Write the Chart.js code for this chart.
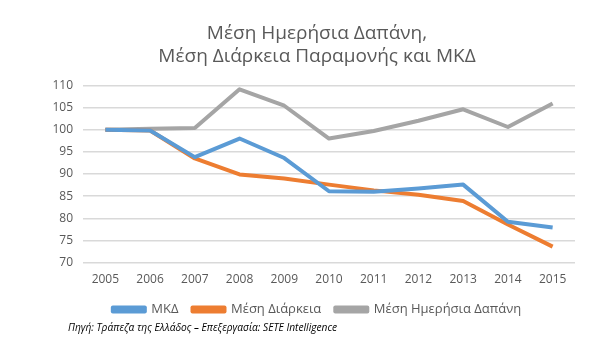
<!DOCTYPE html>
<html>
  <head>
    <title>Μέση Ημερήσια Δαπάνη</title>
    <script src="https://cdn.jsdelivr.net/npm/chart.js@4/dist/chart.umd.min.js"></script>
    <style>
      body { margin: 0; background: #fff; }
      #wrap { position: relative; width: 599px; height: 354px; }
      #source {
        position: absolute; left: 68px; top: 320px;
        font: italic 10.2px "Open Sans", sans-serif; color: #000;
      }
    </style>
  </head>
  <body>
    <div id="wrap">
      <canvas id="myChart" width="599" height="354"></canvas>
      <div id="source">Πηγή: Τράπεζα της Ελλάδος – Επεξεργασία: SETE Intelligence</div>
    </div>

    <script>
      // data
      const years = ["2005","2006","2007","2008","2009","2010","2011","2012","2013","2014","2015"]
      const mkd = [100, 99.8, 93.8, 98.0, 93.6, 86.1, 86.0, 86.7, 87.6, 79.2, 77.9]
      const diarkeia = [100, 99.8, 93.5, 89.9, 89.0, 87.6, 86.3, 85.3, 83.9, 78.6, 73.6]
      const dapani = [100, 100.2, 100.4, 109.1, 105.4, 98.0, 99.7, 102.0, 104.6, 100.6, 105.9]
      const seriesNames = ["ΜΚΔ", "Μέση Διάρκεια", "Μέση Ημερήσια Δαπάνη"]
      const yMin = 70, yMax = 110, yStep = 5

      const grey = "#595959"
      const font = "'Open Sans', sans-serif"

      function ds(label, data, color){
        return {
          label: label,
          data: data,
          borderColor: color,
          backgroundColor: color,
          borderWidth: 4,
          pointRadius: 0,
          tension: 0,
          borderJoinStyle: "round"
        }
      }

      new Chart("myChart", {
        type: "line",
        data: {
          labels: years,
          datasets: [
            ds(seriesNames[0], mkd, "#5b9bd5"),
            ds(seriesNames[1], diarkeia, "#ed7d31"),
            ds(seriesNames[2], dapani, "#a5a5a5")
          ]
        },
        options: {
          responsive: false,
          animation: false,
          layout: { padding: { left: 35, right: 0, top: 22, bottom: 28 } },
          plugins: {
            title: {
              display: true,
              text: ["Μέση Ημερήσια Δαπάνη,", "Μέση Διάρκεια Παραμονής και ΜΚΔ"],
              color: grey,
              font: { family: font, size: 19, weight: "normal", lineHeight: 1.22 },
              padding: { top: 0, bottom: 17 }
            },
            legend: {
              position: "bottom",
              labels: {
                color: grey,
                font: { family: font, size: 13 },
                boxWidth: 32,
                boxHeight: 4,
                padding: 14
              }
            },
            tooltip: { enabled: false }
          },
          scales: {
            x: {
              offset: true,
              grid: { display: false },
              border: { display: false },
              ticks: { color: grey, font: { family: font, size: 12 }, padding: 2 }
            },
            y: {
              min: yMin,
              max: yMax,
              afterFit: function(scale){ scale.width = 48 },
              grid: { color: "#d9d9d9", lineWidth: 1.5, drawTicks: false },
              border: { display: false },
              ticks: { stepSize: yStep, color: grey, font: { family: font, size: 12 }, padding: 10 }
            },
            // empty right axis, only keeps room on the right side
            yRight: {
              position: "right",
              afterFit: function(scale){ scale.width = 24 },
              grid: { display: false },
              border: { display: false },
              ticks: { display: false }
            }
          }
        }
      })
    </script>
  </body>
</html>
